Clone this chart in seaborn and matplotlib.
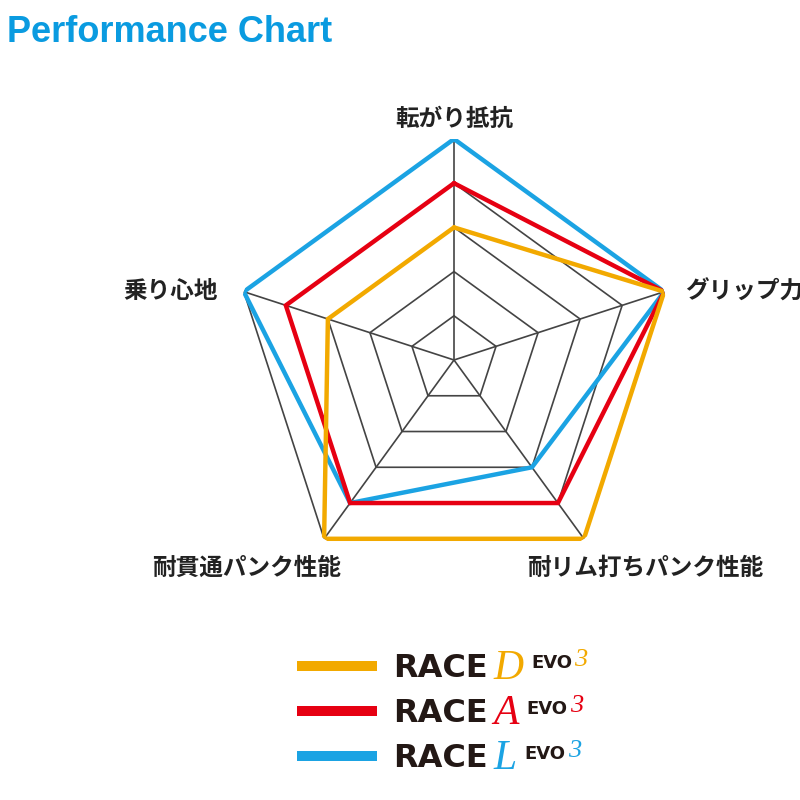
import numpy as np
import matplotlib
matplotlib.use("Agg")
import matplotlib.pyplot as plt
import seaborn as sns

# ---- data ----
categories = ["転がり抵抗", "グリップ力", "耐リム打ちパンク性能", "耐貫通パンク性能", "乗り心地"]
race_d = [3, 5, 5, 5, 3]
race_a = [4, 5, 4, 4, 4]
race_l = [5, 5, 3, 4, 5]
series_names = ["D", "A", "L"]
series_values = [race_d, race_a, race_l]
series_colors = ["#F2A900", "#E60012", "#1BA3E3"]
grid_levels = [1, 2, 3, 4, 5]

sns.set_theme(style="white")
plt.rcParams['font.family'] = ['Noto Sans CJK JP', 'DejaVu Sans']

fig = plt.figure(figsize=(8, 8), dpi=100)
fig.patch.set_facecolor("white")

cx, cy, R = 454 / 800, 1 - 360 / 800, 221 / 800
ax = fig.add_axes([cx - R, cy - R, 2 * R, 2 * R], projection="polar")
ax.set_theta_offset(np.pi / 2)
ax.set_theta_direction(-1)
ax.set_facecolor("none")

n = len(categories)
theta = np.linspace(0, 2 * np.pi, n + 1)  # last value closes the polygon

# grid pentagons and spokes
for lv in grid_levels:
    ax.plot(theta, [lv] * (n + 1), color="#444444", lw=1.2, zorder=1)
for t in theta[:-1]:
    ax.plot([t, t], [0, max(grid_levels)], color="#444444", lw=1.2, zorder=1)

# data lines (drawn L, A, D so D sits on top)
lines = {}
for name, vals, col, z in reversed(list(zip(series_names, series_values, series_colors, [4, 3, 2]))):
    closed = list(vals) + [vals[0]]
    sns.lineplot(x=theta, y=closed, sort=False, estimator=None, ax=ax, color=col,
                 lw=3.2, zorder=z, solid_joinstyle="miter")
    lines[name] = ax.get_lines()[-1]

ax.set_ylim(0, 5)
ax.grid(False)
ax.spines["polar"].set_visible(False)
ax.set_xticks([])
ax.set_yticks([])
ax.set_xlabel("")
ax.set_ylabel("")

# category labels
offsets = [((0, 20), "center"), ((21, 0), "left"), ((61, -29), "center"),
           ((-78, -29), "center"), ((-26, 1), "right")]
for t, lab, (off, ha) in zip(theta[:-1], categories, offsets):
    ax.annotate(lab, xy=(t, 5), xytext=off, textcoords="offset pixels",
                ha=ha, va="center", fontsize=17, fontweight="bold",
                color="#222222", annotation_clip=False)

# title
fig.text(7 / 800, 1 - 32 / 800, "Performance Chart", fontsize=26, fontweight="bold",
         color="#0A9BE0", va="center", ha="left", family="Liberation Sans")

# legend
handles = [lines[nm] for nm in series_names]
leg = ax.legend(handles, ["RACE"] * 3, loc="upper left",
                bbox_to_anchor=(297 / 800, 1 - 653 / 800), bbox_transform=fig.transFigure,
                frameon=False,
                prop={"family": "DejaVu Sans", "weight": "bold", "size": 23},
                handlelength=2.5, handletextpad=0.5, labelspacing=0.44,
                borderpad=0, borderaxespad=0)
leg.set_zorder(5)
for ln in leg.get_lines():
    ln.set_linewidth(7.2)
    ln.set_solid_capstyle("butt")
for txt, nm, col in zip(leg.get_texts(), series_names, series_colors):
    txt.set_color("#231815")
    letter = ax.annotate(nm, xy=(1, 0.5), xycoords=txt, xytext=(6, 0),
                         textcoords="offset pixels", ha="left", va="center",
                         fontsize=30, fontstyle="italic", color=col,
                         family="Liberation Serif", annotation_clip=False, zorder=10)
    evo = ax.annotate("EVO", xy=(1, 0.5), xycoords=letter, xytext=(8, 5),
                      textcoords="offset pixels", ha="left", va="center",
                      fontsize=13, fontweight="bold", color="#231815",
                      family="DejaVu Sans", annotation_clip=False, zorder=10)
    ax.annotate("3", xy=(1, 0.5), xycoords=evo, xytext=(2, 3),
                textcoords="offset pixels", ha="left", va="center",
                fontsize=19, fontstyle="italic", color=col,
                family="Liberation Serif", annotation_clip=False, zorder=10)

fig.canvas.draw()
fig.savefig("out.png", dpi=100, facecolor="white")
